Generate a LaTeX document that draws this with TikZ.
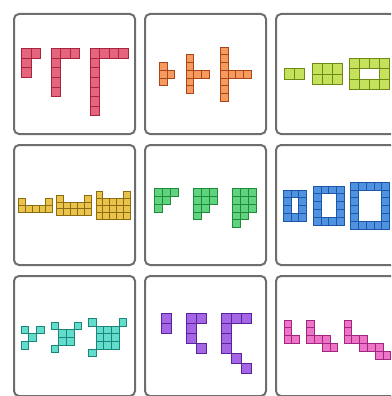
\documentclass[tikz,border=0pt]{standalone}
\usepackage{tikz}

\definecolor{redfill}{HTML}{E5647E}   \definecolor{redline}{HTML}{A8243F}
\definecolor{orangefill}{HTML}{F79A5E}\definecolor{orangeline}{HTML}{A8461A}
\definecolor{limefill}{HTML}{C6E25C}  \definecolor{limeline}{HTML}{6B8B16}
\definecolor{goldfill}{HTML}{E9C34A}  \definecolor{goldline}{HTML}{8C6C12}
\definecolor{greenfill}{HTML}{5FD37E} \definecolor{greenline}{HTML}{1F8A3C}
\definecolor{bluefill}{HTML}{4F93E0}  \definecolor{blueline}{HTML}{1F57A8}
\definecolor{tealfill}{HTML}{62DCCB}  \definecolor{tealline}{HTML}{1C857A}
\definecolor{purplefill}{HTML}{A566E6}\definecolor{purpleline}{HTML}{5A239E}
\definecolor{pinkfill}{HTML}{EE74C6}  \definecolor{pinkline}{HTML}{A12683}
\definecolor{framegray}{HTML}{6E6E6E}

\tikzset{
  panel/.style={draw=framegray, line width=2pt, rounded corners=5pt, fill=white},
  tile/.style={line width=1pt, fill=#1fill, draw=#1line},
}

% one polyomino: colour, left, top, cell size, list of col/row
\newcommand{\polyo}[5]{%
  \begin{scope}[shift={(#2pt,-#3pt)}, x=#4pt, y=-#4pt]
    \foreach \c/\r in {#5} \draw[tile=#1] (\c,\r) rectangle ++(1,1);
  \end{scope}}

\begin{document}
\begin{tikzpicture}[x=1pt, y=-1pt]
  \useasboundingbox (0,0) rectangle (391,396);
  \clip (0,0) rectangle (391,396);
  % Panels
  \foreach \i in {0,1,2} \foreach \j in {0,1,2}
    \draw[panel] (14+131*\i,14+131*\j) rectangle ++(121,120);

  % Row 1: corners, tees, rings
  \polyo{red}{21.5}{49}{9.5}{0/0,1/0,0/1,0/2}
  \polyo{red}{51}{49}{9.5}{0/0,1/0,2/0,0/1,0/2,0/3,0/4}
  \polyo{red}{90}{49}{9.5}{0/0,1/0,2/0,3/0,0/1,0/2,0/3,0/4,0/5,0/6}
  \polyo{orange}{159.3}{62.6}{7.7}{0/0,0/1,0/2,1/1}
  \polyo{orange}{186}{55}{7.7}{0/0,0/1,0/2,0/3,0/4,1/2,2/2}
  \polyo{orange}{220.5}{47.2}{7.7}{0/0,0/1,0/2,0/3,0/4,0/5,0/6,1/3,2/3,3/3}
  \polyo{lime}{284.5}{69}{10}{0/0,1/0}
  \polyo{lime}{312.3}{64}{10}{0/0,1/0,2/0,0/1,1/1,2/1}
  \polyo{lime}{349}{59}{10}{0/0,1/0,2/0,3/0,0/1,3/1,0/2,1/2,2/2,3/2}

  % Row 2: cups, staircases, frames
  \polyo{gold}{18.3}{198.6}{6.9}{0/0,4/0,0/1,1/1,2/1,3/1,4/1}
  \polyo{gold}{56.7}{195.1}{6.9}{0/0,4/0,0/1,1/1,2/1,3/1,4/1,0/2,1/2,2/2,3/2,4/2}
  \polyo{gold}{96}{191.7}{6.9}{0/0,4/0,0/1,1/1,2/1,3/1,4/1,0/2,1/2,2/2,3/2,4/2,0/3,1/3,2/3,3/3,4/3}
  \polyo{green}{154.3}{188.3}{7.9}{0/0,1/0,2/0,0/1,1/1,0/2}
  \polyo{green}{193.3}{188.3}{7.9}{0/0,1/0,2/0,0/1,1/1,2/1,0/2,1/2,0/3}
  \polyo{green}{232.3}{188.3}{7.9}{0/0,1/0,2/0,0/1,1/1,2/1,0/2,1/2,2/2,0/3,1/3,0/4}
  \polyo{blue}{283.3}{190}{7.8}{0/0,1/0,2/0,0/1,2/1,0/2,2/2,0/3,1/3,2/3}
  \polyo{blue}{313.3}{186.1}{7.8}{0/0,1/0,2/0,3/0,0/1,3/1,0/2,3/2,0/3,3/3,0/4,1/4,2/4,3/4}
  \polyo{blue}{350.7}{182.2}{7.8}{0/0,1/0,2/0,3/0,4/0,0/1,4/1,0/2,4/2,0/3,4/3,0/4,4/4,0/5,1/5,2/5,3/5,4/5}

  % Row 3: crosses, hooks, zigzags
  \polyo{teal}{21}{326}{7.7}{0/0,2/0,1/1,0/2}
  \polyo{teal}{51}{322.1}{7.7}{0/0,3/0,1/1,2/1,1/2,2/2,0/3}
  \polyo{teal}{88.3}{318.3}{7.7}{0/0,4/0,1/1,2/1,3/1,1/2,2/2,3/2,1/3,2/3,3/3,0/4}
  \polyo{purple}{161.7}{313.3}{10}{0/0,0/1}
  \polyo{purple}{186.2}{313.3}{10}{0/0,1/0,0/1,0/2,1/3}
  \polyo{purple}{221}{313.3}{10}{0/0,1/0,2/0,0/1,0/2,0/3,1/4,2/5}
  \polyo{pink}{284}{320}{7.8}{0/0,0/1,0/2,1/2}
  \polyo{pink}{306.7}{320}{7.8}{0/0,0/1,0/2,1/2,2/2,2/3,3/3}
  \polyo{pink}{344}{320}{7.8}{0/0,0/1,0/2,1/2,2/2,2/3,3/3,4/3,4/4,5/4}
\end{tikzpicture}
\end{document}
